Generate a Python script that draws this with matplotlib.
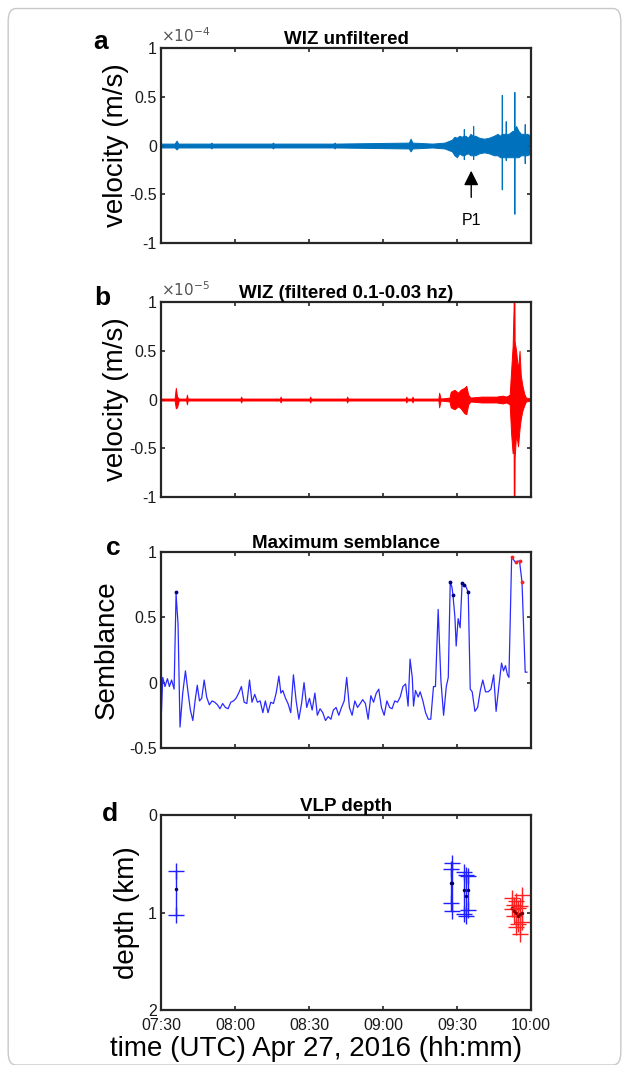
import matplotlib
matplotlib.use("Agg")
import matplotlib.pyplot as plt
from matplotlib.patches import FancyBboxPatch

plt.rcParams['font.family'] = ['Liberation Sans', 'DejaVu Sans']
plt.rcParams['axes.unicode_minus'] = False

# time axis: minutes after 07:30 UTC
x_ticks = [0, 30, 60, 90, 120, 150]
x_ticklabels = ['07:30', '08:00', '08:30', '09:00', '09:30', '10:00']

# panel a: envelope of unfiltered trace (x 1e-4 m/s)
a_t = [0, 5.5, 6.3, 7.0, 20, 20.4, 20.8, 45, 45.4, 45.8, 70, 70.4, 70.8, 100.5, 101.2, 102, 110, 115,
       118, 119, 120, 121, 122, 122.7, 122.8, 122.9, 123.5, 124.5, 125.5, 126.5, 126.6, 126.7, 127.5,
       129, 131, 133, 135, 136.5, 137.5, 138.1, 138.2, 138.3, 138.8, 139.7, 139.8, 139.9, 141,
       142.5, 143.2, 143.3, 143.4, 144, 145, 146, 147.4, 147.5, 147.6, 148.5, 150]
a_up = [0.02, 0.02, 0.05, 0.02, 0.02, 0.03, 0.02, 0.02, 0.03, 0.02, 0.02, 0.03, 0.02, 0.03, 0.07, 0.03, 0.02, 0.03,
        0.06, 0.09, 0.08, 0.10, 0.09, 0.10, 0.17, 0.10, 0.10, 0.08, 0.12, 0.10, 0.20, 0.10, 0.10,
        0.08, 0.07, 0.08, 0.10, 0.12, 0.10, 0.12, 0.52, 0.12, 0.12, 0.12, 0.25, 0.12, 0.12,
        0.15, 0.15, 0.55, 0.15, 0.20, 0.15, 0.12, 0.12, 0.22, 0.12, 0.12, 0.10]
a_lo = [-0.02, -0.02, -0.04, -0.02, -0.02, -0.03, -0.02, -0.02, -0.03, -0.02, -0.02, -0.03, -0.02, -0.03, -0.06, -0.03, -0.02, -0.03,
        -0.06, -0.10, -0.12, -0.08, -0.10, -0.10, -0.14, -0.10, -0.09, -0.08, -0.10, -0.10, -0.14, -0.10, -0.10,
        -0.08, -0.07, -0.08, -0.10, -0.10, -0.12, -0.12, -0.45, -0.12, -0.12, -0.12, -0.15, -0.12, -0.12,
        -0.12, -0.12, -0.70, -0.12, -0.12, -0.12, -0.10, -0.10, -0.18, -0.10, -0.10, -0.08]

# panel b: envelope of filtered trace (x 1e-5 m/s)
b_t = [0, 5.5, 6.0, 6.5, 7.2, 10.2, 10.5, 10.8, 32.2, 32.5, 32.8, 48.2, 48.5, 48.8, 60.2, 60.5, 60.8,
       75.2, 75.5, 75.8, 99.2, 99.5, 99.8, 101.7, 102, 102.3, 112.5, 112.8, 113.4, 117, 117.5, 119,
       120.5, 121.5, 123.0, 123.8, 124.6, 125.5, 130, 133, 136, 138.5, 140, 141.4, 142.0, 142.6,
       143.0, 143.1, 143.2, 143.3, 143.4, 144.0, 144.8, 145.4, 145.9, 146.5, 147.3, 148, 150]
b_up = [0.01, 0.01, 0.12, 0.03, 0.01, 0.01, 0.05, 0.01, 0.01, 0.03, 0.01, 0.01, 0.03, 0.01, 0.01, 0.03, 0.01,
        0.01, 0.03, 0.01, 0.01, 0.03, 0.01, 0.01, 0.03, 0.01, 0.01, 0.07, 0.01, 0.02, 0.08, 0.10,
        0.07, 0.10, 0.12, 0.14, 0.05, 0.02, 0.03, 0.03, 0.03, 0.04, 0.03, 0.05, 0.30, 0.55,
        0.95, 1.30, 1.30, 1.30, 0.60, 0.50, 0.30, 0.50, 0.25, 0.15, 0.06, 0.02, 0.01]
b_lo = [-0.01, -0.01, -0.09, -0.08, -0.01, -0.01, -0.05, -0.01, -0.01, -0.03, -0.01, -0.01, -0.03, -0.01, -0.01, -0.03, -0.01,
        -0.01, -0.03, -0.01, -0.01, -0.03, -0.01, -0.01, -0.03, -0.01, -0.01, -0.08, -0.01, -0.02, -0.08, -0.10,
        -0.07, -0.09, -0.14, -0.15, -0.05, -0.02, -0.03, -0.03, -0.03, -0.04, -0.03, -0.05, -0.35, -0.55,
        -0.45, -1.30, -1.30, -1.30, -0.60, -0.35, -0.48, -0.30, -0.20, -0.12, -0.06, -0.02, -0.01]

# panel c: maximum semblance
c_t = [0, 0.7, 1.6, 2.6, 3.4, 4.3, 5.3, 6.1, 6.9, 7.7, 8.8, 9.9, 11.0, 11.9, 12.9, 13.8, 14.7, 15.6,
       16.5, 17.5, 18.5, 19.6, 20.7, 21.8, 22.9, 23.9, 25.0, 26.1, 27.2, 28.3, 29.4, 30.4, 31.5, 32.6,
       33.7, 34.8, 35.9, 36.9, 38.0, 39.1, 40.2, 41.3, 42.3, 43.4, 44.5, 45.6, 46.7, 47.8, 48.6, 49.4,
       50.5, 51.5, 52.6, 53.7, 54.8, 55.9, 57.0, 58.0, 59.1, 60.2, 61.3, 62.4, 63.4, 64.5, 65.6, 66.7,
       67.8, 68.9, 69.9, 71.0, 72.1, 73.2, 74.3, 75.3, 76.4, 77.5, 78.6, 79.7, 80.8, 81.8, 82.9, 84.0,
       85.1, 86.2, 87.3, 88.3, 89.4, 90.5, 91.6, 92.7, 93.7, 94.8, 95.9, 97.0, 98.1, 99.2, 100.2, 101.0,
       101.9, 102.4, 103.2, 104.3, 105.1, 106.2, 107.3, 108.4, 109.4, 110.5, 111.3, 112.4, 113.5, 114.6,
       115.7, 116.5, 117.3, 118.0, 118.4, 119.2, 119.7, 120.5, 121.3, 122.1, 123.0, 123.8, 124.6, 125.4,
       126.2, 127.3, 128.4, 129.5, 130.5, 131.6, 132.7, 133.8, 134.9, 135.9, 137.0, 138.1, 138.9, 139.7,
       140.5, 141.1, 142.2, 143.0, 143.8, 144.6, 145.4, 146.4, 147.7, 148.4]
c_val = [-0.31, 0.04, -0.03, 0.03, -0.03, 0.02, -0.05, 0.68, 0.45, -0.34, -0.08, 0.09, -0.08, -0.21, -0.29, -0.14, -0.02, -0.14,
         -0.12, 0.02, -0.11, -0.17, -0.14, -0.15, -0.17, -0.20, -0.16, -0.19, -0.20, -0.15, -0.14, -0.12, -0.08, -0.03,
         -0.15, -0.16, 0.02, -0.15, -0.09, -0.15, -0.14, -0.23, -0.14, -0.23, -0.15, -0.16, -0.08, 0.05, -0.08, -0.06,
         -0.12, -0.16, -0.23, 0.06, -0.14, -0.28, -0.16, 0.00, -0.19, -0.12, -0.21, -0.08, -0.25, -0.20, -0.23, -0.29,
         -0.26, -0.28, -0.21, -0.19, -0.25, -0.19, -0.14, 0.04, -0.19, -0.25, -0.14, -0.19, -0.16, -0.13, -0.16, -0.28,
         -0.10, -0.15, -0.08, -0.05, -0.19, -0.25, -0.14, -0.19, -0.20, -0.14, -0.15, -0.11, -0.03, -0.01, -0.18, 0.18,
         0.04, -0.18, -0.06, -0.11, -0.07, -0.14, -0.23, -0.28, -0.28, -0.03, -0.03, 0.56, 0.02, -0.25,
         -0.03, 0.04, 0.77, 0.73, 0.67, 0.50, 0.28, 0.49, 0.42, 0.76, 0.75, 0.73, 0.69, -0.05,
         -0.07, -0.22, -0.19, -0.06, 0.02, -0.07, -0.07, -0.05, 0.06, -0.22, -0.03, 0.15, 0.09, 0.13,
         0.06, 0.04, 0.96, 0.94, 0.92, 0.93, 0.93, 0.77, 0.08, 0.08]

c_blue_t = [6.1, 117.3, 118.4, 122.1, 123.0, 124.6]
c_blue_v = [0.69, 0.77, 0.67, 0.76, 0.75, 0.69]
c_red_t = [142.2, 143.8, 145.4, 146.4]
c_red_v = [0.96, 0.92, 0.93, 0.77]

# panel d: VLP depth with uncertainty (km)
d_blue_t = [6.0, 117.5, 118.2, 122.7, 123.6, 124.3]
d_blue_mid = [0.76, 0.70, 0.70, 0.77, 0.83, 0.77]
d_blue_top = [0.57, 0.55, 0.49, 0.58, 0.62, 0.63]
d_blue_bot = [1.03, 0.90, 0.98, 1.02, 1.04, 0.97]
d_red_t = [142.2, 143.0, 143.8, 144.6, 145.4, 146.4]
d_red_mid = [0.95, 0.98, 1.00, 1.04, 1.02, 1.00]
d_red_top = [0.85, 0.92, 0.88, 0.95, 0.93, 0.82]
d_red_bot = [0.96, 1.04, 1.15, 1.12, 1.22, 1.10]

fig = plt.figure(figsize=(6.29, 10.65), dpi=100)
fig.patches.append(FancyBboxPatch((0.013, 0.0), 0.974, 0.992, boxstyle="round,pad=0,rounding_size=0.012",
                                  transform=fig.transFigure, fc='none', ec='#c8c8c8', lw=1.0))

L, W, H = 0.256, 0.588, 0.1831
ax_a = fig.add_axes([L, 0.7718, W, H])
ax_b = fig.add_axes([L, 0.5333, W, H])
ax_c = fig.add_axes([L, 0.2977, W, 0.184])
ax_d = fig.add_axes([L, 0.0516, W, H])

frame = '#262626'
for ax in [ax_a, ax_b, ax_c, ax_d]:
    ax.set_xlim(0, 150)
    ax.set_xticks(x_ticks)
    ax.tick_params(direction='in', top=True, right=True, length=3, width=1.2,
                   labelsize=11.5, colors=frame, labelcolor='#1a1a1a', pad=3)
    ax.tick_params(axis='x', pad=6)
    for s in ax.spines.values():
        s.set_linewidth(1.6)
        s.set_color(frame)
    if ax is not ax_d:
        ax.set_xticklabels([])

# a
ax_a.fill_between(a_t, a_lo, a_up, color='#0072BD', lw=0.7)
ax_a.axhline(0, color='#0072BD', lw=1.2)
ax_a.set_ylim(-1, 1)
ax_a.set_yticks([-1, -0.5, 0, 0.5, 1])
ax_a.set_yticklabels(['-1', '-0.5', '0', '0.5', '1'])
ax_a.set_ylabel('velocity (m/s)', fontsize=20, labelpad=0)
ax_a.set_title('WIZ unfiltered', fontsize=13.5, fontweight='bold', pad=3)
ax_a.text(0.0, 1.015, r'$\times10^{-4}$', transform=ax_a.transAxes, fontsize=11, color='#555555', va='bottom')
ax_a.annotate('', xy=(125.8, -0.23), xytext=(125.8, -0.56),
              arrowprops=dict(arrowstyle='-|>', color='black', lw=1, mutation_scale=22))
ax_a.text(125.8, -0.77, 'P1', fontsize=11.5, ha='center', va='center')
fig.text(0.16, 0.961, 'a', fontsize=19, fontweight='bold', ha='center', va='center')

# b
ax_b.fill_between(b_t, b_lo, b_up, color='#ff0000', lw=0.7)
ax_b.axhline(0, color='#ff0000', lw=1.2)
ax_b.set_ylim(-1, 1)
ax_b.set_yticks([-1, -0.5, 0, 0.5, 1])
ax_b.set_yticklabels(['-1', '-0.5', '0', '0.5', '1'])
ax_b.set_ylabel('velocity (m/s)', fontsize=20, labelpad=0)
ax_b.set_title('WIZ (filtered 0.1-0.03 hz)', fontsize=13.5, fontweight='bold', pad=3)
ax_b.text(0.0, 1.015, r'$\times10^{-5}$', transform=ax_b.transAxes, fontsize=11, color='#555555', va='bottom')
fig.text(0.163, 0.72, 'b', fontsize=19, fontweight='bold', ha='center', va='center')

# c
ax_c.plot(c_t, c_val, color='#2a2aff', lw=0.9)
ax_c.plot(c_blue_t, c_blue_v, '.', color='#000080', ms=3.5)
ax_c.plot(c_red_t, c_red_v, '.', color='#ff2020', ms=3.5)
ax_c.set_ylim(-0.5, 1)
ax_c.set_yticks([-0.5, 0, 0.5, 1])
ax_c.set_yticklabels(['-0.5', '0', '0.5', '1'])
ax_c.set_ylabel('Semblance', fontsize=20, labelpad=7)
ax_c.set_title('Maximum semblance', fontsize=13.5, fontweight='bold', pad=3)
fig.text(0.18, 0.485, 'c', fontsize=19, fontweight='bold', ha='center', va='center')

# d
for t, m, top, bot in zip(d_blue_t, d_blue_mid, d_blue_top, d_blue_bot):
    ax_d.plot([t, t], [top, bot], color='#1f1fff', lw=1)
    ax_d.plot([t, t], [top, bot], '+', color='#1f1fff', ms=12, mew=1)
    ax_d.plot(t, m, '.', color='#000060', ms=3)
for t, m, top, bot in zip(d_red_t, d_red_mid, d_red_top, d_red_bot):
    ax_d.plot([t, t], [top, bot], color='#ff3030', lw=1)
    ax_d.plot([t, t], [top, bot], '+', color='#ff2020', ms=12, mew=1)
    ax_d.plot(t, m, '.', color='#800000', ms=3)
ax_d.set_ylim(2, 0)
ax_d.set_yticks([0, 1, 2])
ax_d.set_yticklabels(['0', '1', '2'])
ax_d.set_xticklabels(x_ticklabels)
ax_d.set_ylabel('depth (km)', fontsize=20, labelpad=6)
ax_d.set_title('VLP depth', fontsize=13.5, fontweight='bold', pad=3)
fig.text(0.175, 0.236, 'd', fontsize=19, fontweight='bold', ha='center', va='center')
fig.text(0.503, 0.003, 'time (UTC) Apr 27, 2016 (hh:mm)', fontsize=20, ha='center', va='bottom')

fig.savefig('out.png', dpi=100)
